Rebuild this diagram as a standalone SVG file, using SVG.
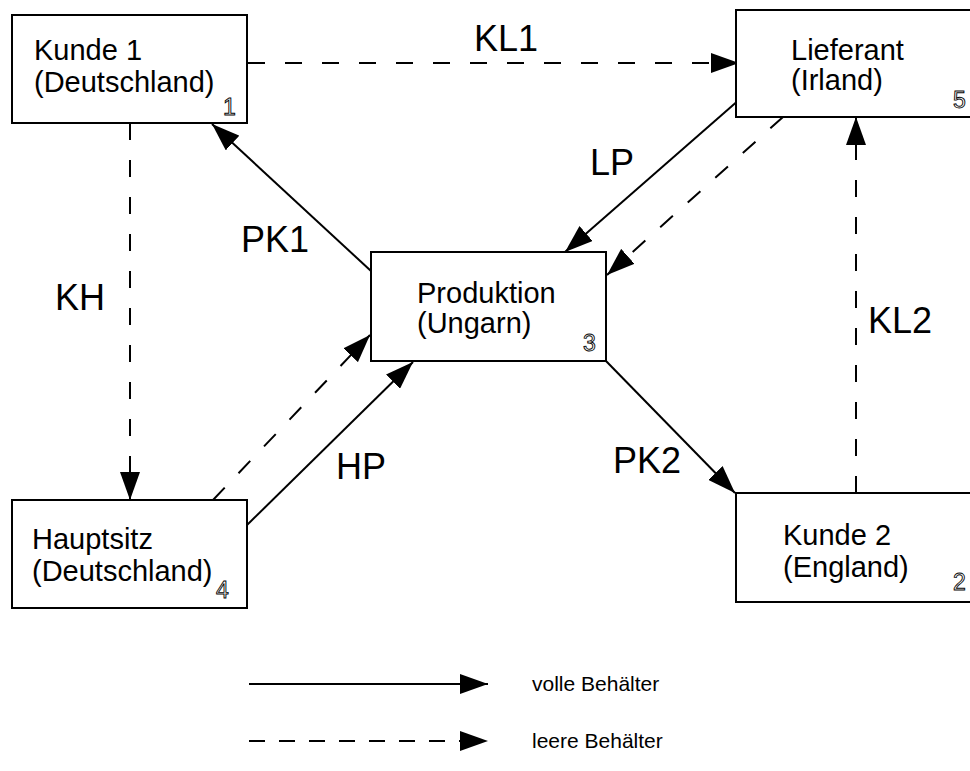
<svg xmlns="http://www.w3.org/2000/svg" width="970" height="771" viewBox="0 0 970 771">
  <style>
    .box { fill: #ffffff; stroke: #000000; stroke-width: 2; }
    .name { font-family: "Liberation Sans", Arial, sans-serif; font-size: 29px; fill: #000000; }
    .num { font-family: "Liberation Sans", Arial, sans-serif; font-size: 23px; fill: #ffffff; stroke: #000000; stroke-width: 0.9; opacity: 0.99; }
    .lbl { font-family: "Liberation Sans", Arial, sans-serif; font-size: 36px; fill: #000000; }
    .legend { font-family: "Liberation Sans", Arial, sans-serif; font-size: 21px; fill: #000000; }
    .full { stroke: #000000; stroke-width: 2; fill: none; marker-end: url(#head); }
    .empty { stroke: #000000; stroke-width: 2; fill: none; stroke-dasharray: 17 20; marker-end: url(#head); }
  </style>
  <defs>
    <marker id="head" markerUnits="userSpaceOnUse" markerWidth="28" markerHeight="20" refX="28" refY="10" orient="auto" viewBox="0 0 28 20">
      <path d="M0,0 L28,10 L0,20 z" fill="#000000"/>
    </marker>
  </defs>

  <rect width="970" height="771" fill="#ffffff"/>

  <!-- connectors -->
  <g id="connectors">
    <line id="KL1" class="empty" x1="248" y1="63" x2="739" y2="63"/>
    <line id="KH" class="empty" x1="130" y1="123" x2="130" y2="500"/>
    <line id="PK1" class="full" x1="371" y1="271" x2="212" y2="124"/>
    <line id="LP-full" class="full" x1="740" y1="99" x2="565" y2="252"/>
    <line id="LP-empty" class="empty" x1="783" y1="117" x2="607" y2="275"/>
    <line id="HP-empty" class="empty" x1="213" y1="500" x2="370" y2="335"/>
    <line id="HP-full" class="full" x1="244" y1="528" x2="413" y2="362"/>
    <line id="PK2" class="full" x1="606" y1="361" x2="735" y2="493"/>
    <line id="KL2" class="empty" x1="856" y1="493" x2="856" y2="117"/>
  </g>

  <!-- connector labels -->
  <g id="edge-labels">
    <text class="lbl" x="474" y="51">KL1</text>
    <text class="lbl" x="55" y="310">KH</text>
    <text class="lbl" x="241" y="252">PK1</text>
    <text class="lbl" x="590" y="175">LP</text>
    <text class="lbl" x="336" y="479">HP</text>
    <text class="lbl" x="613" y="473">PK2</text>
    <text class="lbl" x="868" y="333">KL2</text>
  </g>

  <!-- nodes -->
  <g id="kunde1">
    <rect class="box" x="12" y="15" width="235" height="108"/>
    <text class="name" x="34" y="60">Kunde 1</text>
    <text class="name" x="34" y="92">(Deutschland)</text>
    <text class="num" x="223" y="115">1</text>
  </g>
  <g id="lieferant">
    <rect class="box" x="736" y="10" width="240" height="107"/>
    <text class="name" x="791" y="60">Lieferant</text>
    <text class="name" x="791" y="90">(Irland)</text>
    <text class="num" x="953" y="108">5</text>
  </g>
  <g id="produktion">
    <rect class="box" x="371" y="252" width="235" height="109"/>
    <text class="name" x="417" y="303">Produktion</text>
    <text class="name" x="417" y="333">(Ungarn)</text>
    <text class="num" x="583" y="351">3</text>
  </g>
  <g id="hauptsitz">
    <rect class="box" x="12" y="500" width="235" height="108"/>
    <text class="name" x="32" y="549">Hauptsitz</text>
    <text class="name" x="32" y="581">(Deutschland)</text>
    <text class="num" x="216" y="598">4</text>
  </g>
  <g id="kunde2">
    <rect class="box" x="736" y="493" width="240" height="109"/>
    <text class="name" x="783" y="545">Kunde 2</text>
    <text class="name" x="783" y="577">(England)</text>
    <text class="num" x="953" y="590">2</text>
  </g>

  <!-- legend -->
  <g id="legend">
    <line class="full" x1="249" y1="684" x2="488" y2="684"/>
    <line class="full" x1="249" y1="741" x2="488" y2="741" stroke-dasharray="16 14"/>
    <text class="legend" x="532" y="691">volle Behälter</text>
    <text class="legend" x="532" y="748">leere Behälter</text>
  </g>
</svg>
